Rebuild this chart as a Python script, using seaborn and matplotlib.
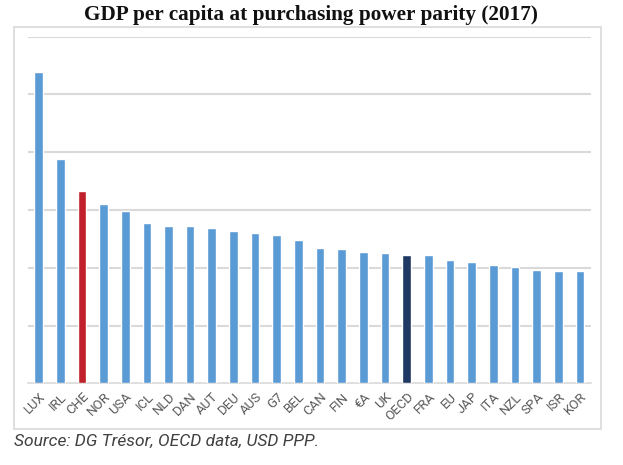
import matplotlib
matplotlib.use("Agg")
import matplotlib.pyplot as plt
import seaborn as sns
import pandas as pd
from matplotlib.patches import Rectangle

countries = ["LUX", "IRL", "CHE", "NOR", "USA", "ICL", "NLD", "DAN", "AUT", "DEU",
             "AUS", "G7", "BEL", "CAN", "FIN", "€A", "UK", "OECD", "FRA", "EU",
             "JAP", "ITA", "NZL", "SPA", "ISR", "KOR"]
gdp_ppp = [107.7, 77.6, 66.6, 62.1, 59.8, 55.4, 54.6, 54.4, 53.9, 52.6,
           52.1, 51.3, 49.6, 46.8, 46.4, 45.6, 45.2, 44.4, 44.4, 42.6,
           42.1, 41.0, 40.2, 39.2, 39.0, 39.0]

blue = "#5B9BD5"
highlight = {"CHE": "#C0202A", "OECD": "#1F3864"}
palette = {c: highlight.get(c, blue) for c in countries}

df = pd.DataFrame({"country": countries, "gdp": gdp_ppp})

sns.set_theme(style="white")
plt.rcParams["font.family"] = ["Roboto", "DejaVu Sans"]

fig = plt.figure(figsize=(6.23, 4.65), dpi=100)
ax = fig.add_axes([0.0445, 0.1757, 0.9038, 0.7454])

sns.barplot(data=df, x="country", y="gdp", hue="country", palette=palette,
            width=0.40, saturation=1, legend=False, ax=ax, zorder=3)

ax.set_xlim(-0.5, len(countries) - 0.5)
ax.set_ylim(0, 120)
ax.set_yticks([20, 40, 60, 80, 100, 120])
ax.yaxis.grid(True, color="#D9D9D9", linewidth=1.5, zorder=0)
ax.set_yticklabels([])
ax.tick_params(axis="y", length=0)
ax.set_xlabel("")
ax.set_ylabel("")
for s in ["top", "right", "left"]:
    ax.spines[s].set_visible(False)
ax.spines["bottom"].set_color("#D9D9D9")
ax.spines["bottom"].set_linewidth(1.2)
ax.tick_params(axis="x", length=0, pad=5)
plt.setp(ax.get_xticklabels(), rotation=45, ha="right", rotation_mode="anchor",
         fontsize=9.5, color="#595959")
for lbl in ax.get_xticklabels():
    lbl.set_fontfamily(["Roboto", "DejaVu Sans"])

# outer border box
fig.patches.append(Rectangle((14 / 623, 1 - 429 / 465), (601 - 14) / 623, (429 - 27) / 465,
                             transform=fig.transFigure, fill=False,
                             edgecolor="#D9D9D9", linewidth=1.2))

fig.text(0.4995, 1 - 15 / 465, "GDP per capita at purchasing power parity (2017)",
         ha="center", va="center", fontsize=15.3, fontweight="bold",
         family=["Liberation Serif", "DejaVu Serif"], color="#111111")
fig.text(14 / 623, 1 - 441 / 465, "Source: DG Trésor, OECD data, USD PPP.",
         ha="left", va="center", fontsize=12.5, style="italic",
         color="#404040")

fig.savefig("out.png", dpi=100)
